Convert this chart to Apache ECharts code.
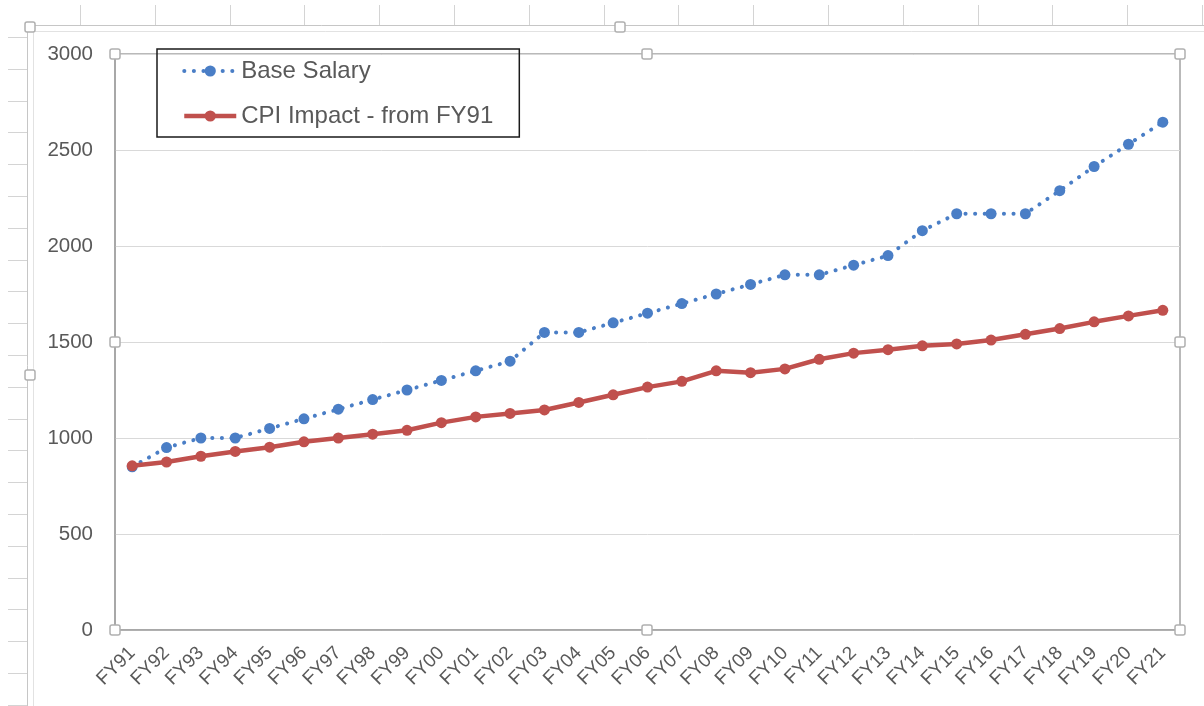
<!DOCTYPE html>
<html>
<head>
<meta charset="utf-8">
<script src="https://cdn.jsdelivr.net/npm/echarts@6/dist/echarts.min.js"></script>
<style>
html,body{margin:0;padding:0;background:#fff;}
#chart{width:1204px;height:706px;}
</style>
</head>
<body>
<div id="chart"></div>
<script>
const categories = ['FY91','FY92','FY93','FY94','FY95','FY96','FY97','FY98','FY99','FY00','FY01','FY02','FY03','FY04','FY05','FY06','FY07','FY08','FY09','FY10','FY11','FY12','FY13','FY14','FY15','FY16','FY17','FY18','FY19','FY20','FY21'];
const baseSalary = [850,950,1000,1000,1050,1100,1150,1200,1250,1300,1350,1400,1550,1550,1600,1650,1700,1750,1800,1850,1850,1900,1950,2080,2168,2168,2168,2288,2414,2530,2645];
const cpiImpact = [855,875,905,930,952,980,1000,1020,1040,1080,1110,1128,1146,1185,1225,1265,1295,1350,1340,1360,1410,1442,1460,1480,1490,1510,1540,1570,1605,1636,1665];
const yTicks = {min:0, max:3000, interval:500};

const G = {left:115, top:54, right:1180, bottom:630};
const chart = echarts.init(document.getElementById('chart'));

const graphics = [];
for (let x = 80; x < 1204; x += 74.8) {
  graphics.push({type:'line', silent:true, z:-1, shape:{x1:Math.round(x)+0.5,y1:5,x2:Math.round(x)+0.5,y2:25}, style:{stroke:'#d4d4d4', lineWidth:1}});
}
for (let y = 37; y < 706; y += 31.8) {
  graphics.push({type:'line', silent:true, z:-1, shape:{x1:8,y1:Math.round(y)+0.5,x2:27,y2:Math.round(y)+0.5}, style:{stroke:'#d4d4d4', lineWidth:1}});
}
graphics.push({type:'line', silent:true, shape:{x1:27,y1:25.5,x2:1204,y2:25.5}, style:{stroke:'#c6c6c6', lineWidth:1}});
graphics.push({type:'line', silent:true, shape:{x1:33,y1:31.5,x2:1204,y2:31.5}, style:{stroke:'#e2e2e2', lineWidth:1}});
graphics.push({type:'line', silent:true, shape:{x1:27.5,y1:25,x2:27.5,y2:706}, style:{stroke:'#c6c6c6', lineWidth:1}});
graphics.push({type:'line', silent:true, shape:{x1:33.5,y1:31,x2:33.5,y2:706}, style:{stroke:'#e2e2e2', lineWidth:1}});
function handle(cx, cy) {
  graphics.push({type:'rect', silent:true, z:100, shape:{x:cx-5,y:cy-5,width:10,height:10,r:2}, style:{fill:'#fff', stroke:'#b0b0b0', lineWidth:1.5}});
}
handle(30,27); handle(620,27); handle(30,375);
const midX = Math.round((G.left+G.right)/2)-1, midY = Math.round((G.top+G.bottom)/2);
[[G.left,G.top],[midX,G.top],[G.right,G.top],[G.left,midY],[G.right,midY],[G.left,G.bottom],[midX,G.bottom],[G.right,G.bottom]].forEach(p=>handle(p[0],p[1]));

const option = {
  animation:false,
  backgroundColor:'#ffffff',
  textStyle:{fontFamily:'Liberation Sans, Arial, sans-serif'},
  grid:{left:G.left, top:G.top, right:1204-G.right, bottom:706-G.bottom, show:true, borderColor:'#a3a3a3', borderWidth:1.5, containLabel:false},
  legend:{
    left:157, top:49, orient:'vertical',
    borderColor:'#1a1a1a', borderWidth:1.5,
    padding:[9,26,8,25],
    itemWidth:52, itemHeight:14, itemGap:19,
    lineStyle:{width:'inherit'},
    textStyle:{fontSize:24, color:'#595959', lineHeight:26, fontFamily:'Liberation Sans, Arial, sans-serif'},
    data:['Base Salary','CPI Impact - from FY91']
  },
  xAxis:{
    type:'category', data:categories, boundaryGap:true,
    axisLine:{show:true, lineStyle:{color:'#a3a3a3', width:1.5}},
    axisTick:{show:false},
    axisLabel:{rotate:45, color:'#595959', fontSize:19, margin:20, interval:0}
  },
  yAxis:{
    type:'value', min:yTicks.min, max:yTicks.max, interval:yTicks.interval,
    axisLine:{show:true, lineStyle:{color:'#a3a3a3', width:1.5}},
    axisTick:{show:false},
    axisLabel:{color:'#595959', fontSize:20.5, margin:22, formatter:function(v){return String(v);}},
    splitLine:{show:true, lineStyle:{color:'#d9d9d9', width:1}}
  },
  series:[
    {
      name:'Base Salary', type:'line', data:baseSalary,
      symbol:'circle', symbolSize:11,
      itemStyle:{color:'#4a7ec6'},
      lineStyle:{color:'#4a7ec6', width:4, type:[0.1,9.5], cap:'round'},
      z:3
    },
    {
      name:'CPI Impact - from FY91', type:'line', data:cpiImpact,
      symbol:'circle', symbolSize:11,
      itemStyle:{color:'#c0504d'},
      lineStyle:{color:'#c0504d', width:4.5},
      z:4
    }
  ],
  graphic:graphics
};
chart.setOption(option);
</script>
</body>
</html>
